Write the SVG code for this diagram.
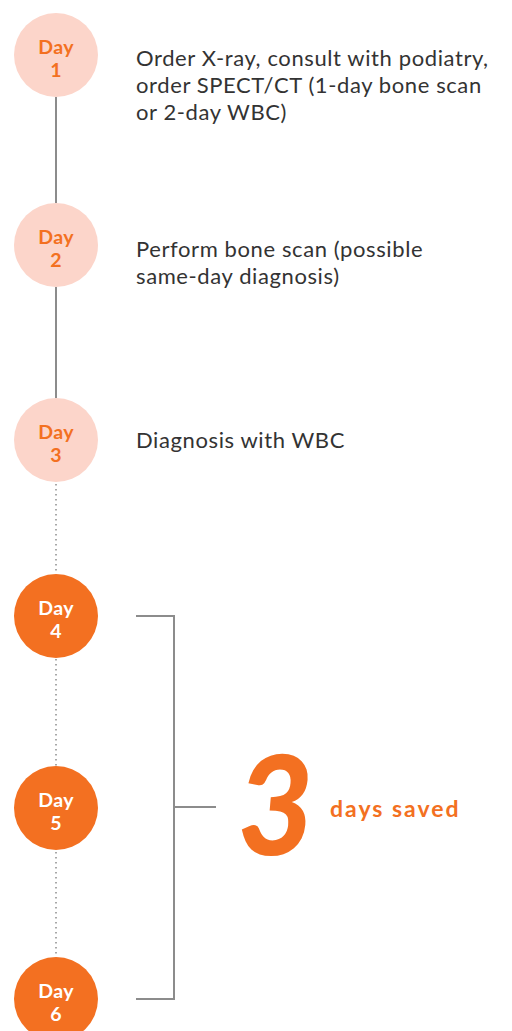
<svg xmlns="http://www.w3.org/2000/svg" width="512" height="1031" viewBox="0 0 512 1031">
<style>
.pale{fill:#fcd5ca}
.strong{fill:#f37021}
.dl{font-family:Lato,"Liberation Sans",sans-serif;font-weight:700;font-size:19.5px;letter-spacing:0.4px;text-anchor:middle}
.dl.o{fill:#f37021}
.dl.w{fill:#ffffff}
.body{font-family:Lato,"Liberation Sans",sans-serif;font-size:22px;letter-spacing:0.6px;fill:#333333}
.solid{stroke:#8c8c8c;stroke-width:2;fill:none}
.dot{stroke:#8c8c8c;stroke-width:1.5;stroke-dasharray:1.5 3.5;fill:none}
.br{stroke:#8c8c8c;stroke-width:2;fill:none}
</style>
<g id="connectors">
<line class="solid" x1="56" y1="97" x2="56" y2="203"/>
<line class="solid" x1="56" y1="287" x2="56" y2="398"/>
<line class="dot" x1="56" y1="484" x2="56" y2="573"/>
<line class="dot" x1="56" y1="659" x2="56" y2="766"/>
<line class="dot" x1="56" y1="852" x2="56" y2="957"/>
</g>
<g id="day1">
<circle class="pale" cx="56" cy="55" r="42"/>
<text class="dl o" x="56" y="54">Day</text>
<text class="dl o" x="56" y="77">1</text>
<text class="body" x="136" y="66">Order X-ray, consult with podiatry,</text>
<text class="body" x="136" y="93">order SPECT/CT (1-day bone scan</text>
<text class="body" x="136" y="120">or 2-day WBC)</text>
</g>
<g id="day2">
<circle class="pale" cx="56" cy="245" r="42"/>
<text class="dl o" x="56" y="244">Day</text>
<text class="dl o" x="56" y="267">2</text>
<text class="body" x="136" y="257">Perform bone scan (possible</text>
<text class="body" x="136" y="284">same-day diagnosis)</text>
</g>
<g id="day3">
<circle class="pale" cx="56" cy="440" r="42"/>
<text class="dl o" x="56" y="439">Day</text>
<text class="dl o" x="56" y="462">3</text>
<text class="body" x="136" y="448">Diagnosis with WBC</text>
</g>
<g id="day4">
<circle class="strong" cx="56" cy="616" r="42"/>
<text class="dl w" x="56" y="615">Day</text>
<text class="dl w" x="56" y="638">4</text>
</g>
<g id="day5">
<circle class="strong" cx="56" cy="808" r="42"/>
<text class="dl w" x="56" y="807">Day</text>
<text class="dl w" x="56" y="830">5</text>
</g>
<g id="day6">
<circle class="strong" cx="56" cy="999" r="42"/>
<text class="dl w" x="56" y="998">Day</text>
<text class="dl w" x="56" y="1021">6</text>
</g>
<g id="bracket">
<polyline class="br" points="136,616 174,616 174,999 136,999"/>
<line class="br" x1="174" y1="807" x2="216" y2="807"/>
</g>
<g id="saved">
<text transform="translate(272,855) skewX(-5) scale(0.9,1)" x="0" y="0" font-family="Lato,'Liberation Sans',sans-serif" font-weight="900" font-size="138" fill="#f37021" text-anchor="middle">3</text>
<text x="330" y="817" font-family="Lato,'Liberation Sans',sans-serif" font-weight="700" font-size="23" letter-spacing="2" fill="#f37021">days saved</text>
</g>
</svg>
